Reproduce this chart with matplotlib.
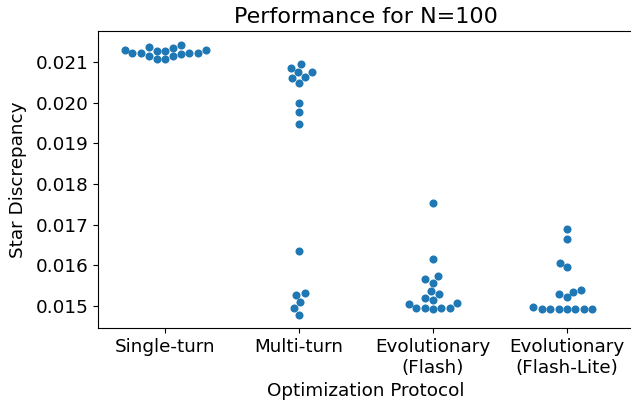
import pandas as pd
import seaborn as sns
import matplotlib
matplotlib.use("Agg")
import matplotlib.pyplot as plt


categories = ["Single-turn", "Multi-turn", "Evolutionary\n(Flash)", "Evolutionary\n(Flash-Lite)"]

single_turn = [0.02130, 0.02122, 0.02119, 0.02142, 0.02115, 0.02130, 0.02107, 0.02123,
               0.02107, 0.02135, 0.02115, 0.02137, 0.02121, 0.02121, 0.02127, 0.02127]
multi_turn = [0.020945, 0.020847, 0.020756, 0.020756, 0.020617, 0.020634, 0.020494, 0.019989,
              0.019759, 0.019475, 0.016355, 0.015311, 0.015270, 0.015091, 0.014944, 0.014780]
evo_flash = [0.017540, 0.016144, 0.015735, 0.015654, 0.015571, 0.015368, 0.015294, 0.015189,
             0.015147, 0.015067, 0.014952, 0.014952, 0.014952, 0.014952, 0.014920, 0.015049]
evo_flash_lite = [0.016886, 0.016641, 0.016061, 0.015948, 0.015294, 0.015214, 0.015351, 0.015392,
                  0.014920, 0.014920, 0.014920, 0.014920, 0.014920, 0.014920, 0.014920, 0.014969]


def build_frame():
    rows = []
    for name, values in zip(categories, [single_turn, multi_turn, evo_flash, evo_flash_lite]):
        for v in values:
            rows.append({"protocol": name, "discrepancy": v})
    return pd.DataFrame(rows)


def main():
    df = build_frame()

    fig = plt.figure(figsize=(6.31, 4.04), dpi=100)
    ax = fig.add_axes([98 / 631, 76 / 404, 536 / 631, 297 / 404])

    sns.swarmplot(data=df, x="protocol", y="discrepancy", order=categories,
                  color="#1f77b4", size=5.8, ax=ax)

    ax.set_xlim(-0.5, 3.5)
    ax.set_ylim(0.014459, 0.021762)
    ax.set_yticks([0.015, 0.016, 0.017, 0.018, 0.019, 0.020, 0.021])
    ax.tick_params(labelsize=13.2)
    # the right edge of the frame falls just outside the picture
    ax.spines["right"].set_visible(False)
    ax.set_xlabel("Optimization Protocol", fontsize=13.2)
    ax.set_ylabel("Star Discrepancy", fontsize=13.2, labelpad=6)
    ax.set_title("Performance for N=100", fontsize=16)

    fig.savefig("out.png", dpi=100)
    plt.close(fig)


if __name__ == "__main__":
    main()
